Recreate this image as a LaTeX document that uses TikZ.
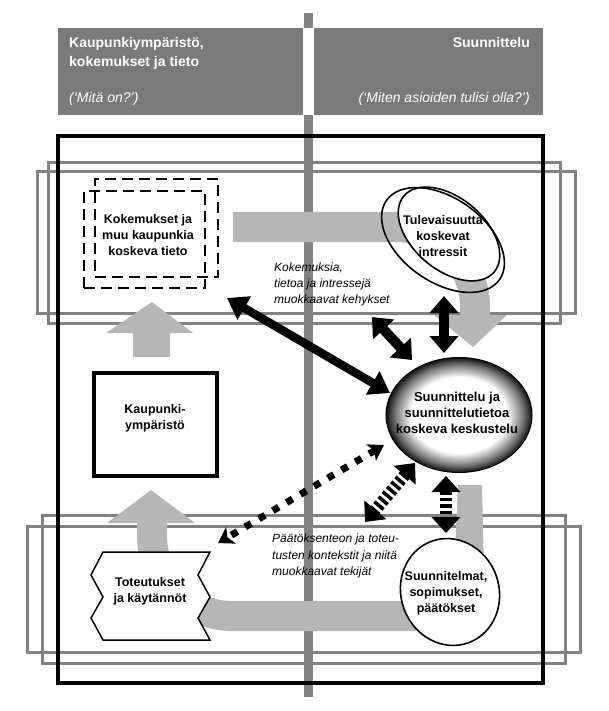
\documentclass[tikz,border=0pt]{standalone}
\usepackage{fontspec}
\setmainfont{Liberation Sans}
\usetikzlibrary{arrows.meta,shapes.geometric}
\definecolor{hdr}{RGB}{122,122,122}
\definecolor{frm}{RGB}{130,130,130}
\definecolor{band}{RGB}{182,182,182}
\pgfdeclareradialshading{discshade}{\pgfpoint{0bp}{0bp}}{color(0bp)=(white); color(16.5bp)=(white); color(22bp)=(black!55); color(25.5bp)=(black); color(50bp)=(black)}
\begin{document}
\begin{tikzpicture}[x=1pt,y=-1pt,
  frame/.style={draw=frm, line width=3pt, inner sep=0pt},
  lbl/.style={font=\fontsize{12.5}{16}\selectfont\bfseries, align=center, inner sep=0pt},
  itl/.style={font=\fontsize{12}{16}\selectfont\itshape, inner sep=0pt, anchor=base west},
  hd/.style={font=\fontsize{14}{19}\selectfont\bfseries, text=white, inner sep=0pt},
  hdi/.style={font=\fontsize{14}{19}\selectfont\itshape, text=white, inner sep=0pt},
  hdbox/.style={fill=hdr, inner sep=0pt, anchor=north west},
  dashbox/.style={draw, dash pattern=on 11pt off 6pt, line width=2.7pt, inner sep=0pt},
  bigdbl/.style={line width=8.5pt, {Triangle[length=20pt,width=26pt]}-{Triangle[length=20pt,width=26pt]}},
  middbl/.style={line width=10pt, {Triangle[length=17pt,width=28pt]}-{Triangle[length=17pt,width=28pt]}},
  stripedbl/.style={line width=12pt, dash pattern=on 3.5pt off 3pt, {Triangle[length=16pt,width=28pt]}-{Triangle[length=16pt,width=28pt]}},
  dotdbl/.style={line width=7pt, dash pattern=on 7pt off 9pt, {Stealth[length=15pt,width=19pt,inset=4pt]}-{Stealth[length=15pt,width=19pt,inset=4pt]}},
  thinell/.style={draw, ellipse, line width=1.6pt, inner sep=0pt}
]
\useasboundingbox (0,0) rectangle (609,711);

% overlapping grey frames
\node[frame, minimum width=512pt, minimum height=160pt] (fA) at (304,243) {};
\node[frame, minimum width=538pt, minimum height=141pt] (fB) at (306,242.5) {};
\node[frame, minimum width=523pt, minimum height=148pt] (fC) at (303.5,589) {};
\node[frame, minimum width=553pt, minimum height=126pt] (fD) at (303.5,589) {};

% header
\node[hdbox, minimum width=245pt, minimum height=87pt] (hl) at (58,28) {};
\node[hdbox, minimum width=229pt, minimum height=87pt] (hr) at (314,28) {};
\node[hd, anchor=base west] (h1) at (69,48) {Kaupunkiympäristö,};
\node[hd, anchor=base west] (h2) at (69,67) {kokemukset ja tieto};
\node[hdi, anchor=base west] (h3) at (69,103) {(‘Mitä on?’)};
\node[hd, anchor=base east] (h4) at (530,48) {Suunnittelu};
\node[hdi, anchor=base east] (h5) at (530,103) {(‘Miten asioiden tulisi olla?’)};

% vertical grey bar
\fill[frm] (304,13) rectangle (313,28);
\fill[frm] (304,115) rectangle (313,697);

% main black frame
\node[draw, line width=3.5pt, minimum width=485pt, minimum height=547pt, inner sep=0pt] (main) at (300.5,409.5) {};

% grey flow bands
\fill[band] (233,212) -- (395,212) arc[start angle=270, end angle=360, radius=95]
  -- (490,315) -- (507,315) -- (473,347) -- (434,315) -- (460,315) -- (460,307)
  arc[start angle=0, end angle=-90, radius=65] -- (233,242) -- cycle;
\fill[band] (482,485) -- (484,571) arc[start angle=0, end angle=90, radius=60]
  -- (232,631) arc[start angle=90, end angle=180, radius=95]
  -- (137,523) -- (107,523) -- (151,490) -- (195,523) -- (167,523) -- (167,536)
  arc[start angle=180, end angle=90, radius=65] -- (424,601)
  arc[start angle=90, end angle=0, radius=30] -- (458,485) -- cycle;
\fill[band] (133,357) rectangle (170,333);
\fill[band] (106,333) -- (152,302) -- (193,333) -- cycle;

% dashed boxes
\node[dashbox, minimum width=123pt, minimum height=98pt] (kok2) at (156.5,228) {};
\node[dashbox, minimum width=121pt, minimum height=97pt] (kok1) at (144.5,239.5) {};
\node[lbl] (tkok) at (148,235) {Kokemukset ja\\muu kaupunkia\\koskeva tieto};

% Kaupunkiympäristö
\node[draw, line width=4pt, minimum width=123pt, minimum height=103pt, inner sep=0pt] (kaup) at (155.5,424.5) {};
\node[lbl] (tkaup) at (155,418) {Kaupunki-\\ympäristö};

% Tulevaisuutta ellipses
\node[thinell, fill=white, minimum width=118pt, minimum height=72pt, rotate=-40] (tul2) at (449,234) {};
\node[thinell, minimum width=138pt, minimum height=84pt, rotate=-35] (tul1) at (443,240) {};
\node[lbl] (ttul) at (443,236) {Tulevaisuutta\\koskevat\\intressit};

% central ellipse
\node[ellipse, shading=discshade, draw=black, line width=1pt, minimum width=146pt, minimum height=115pt, inner sep=0pt] (kesk) at (459,415) {};
\node[lbl, font=\fontsize{13}{16}\selectfont\bfseries] (tkesk) at (457,413) {Suunnittelu ja\\suunnittelutietoa\\koskeva keskustelu};

% Suunnitelmat ellipse
\node[thinell, fill=white, minimum width=108pt, minimum height=98pt, rotate=-70] (suun) at (450,592) {};
\node[lbl] (tsuun) at (446,593) {Suunnitelmat,\\sopimukset,\\päätökset};

% Toteutukset shape
\filldraw[fill=white, draw=black, line width=1.5pt] (103,552) -- (91,575) -- (103,597) -- (91,618) -- (103,640)
  -- (210,640) -- (198,618) -- (210,597) -- (198,575) -- (210,552) -- cycle;
\node[lbl] (ttot) at (150,591) {Toteutukset\\ja käytännöt};

% italic labels
\node[itl] (i1) at (274,271) {Kokemuksia,};
\node[itl] (i2) at (274,287) {tietoa ja intressejä};
\node[itl] (i3) at (274,303) {muokkaavat kehykset};
\node[itl] (i4) at (272,542) {Päätöksenteon ja toteu-};
\node[itl] (i5) at (272,559) {tusten kontekstit ja niitä};
\node[itl] (i6) at (272,575) {muokkaavat tekijät};

% arrow end points
\coordinate (a1s) at (227,298);
\coordinate (a1e) at (390,393);
\coordinate (a2s) at (372,317);
\coordinate (a2e) at (412,360);
\coordinate (a3s) at (444,296);
\coordinate (a3e) at (444,353);
\coordinate (a4s) at (446,476);
\coordinate (a4e) at (446,533);
\coordinate (a5s) at (415,463);
\coordinate (a5e) at (365,522);
\coordinate (a6s) at (384,445);
\coordinate (a6e) at (218,543);

\draw[bigdbl] (a1s) -- (a1e);
\draw[middbl] (a2s) -- (a2e);
\draw[middbl] (a3s) -- (a3e);
\draw[stripedbl] (a4s) -- (a4e);
\draw[stripedbl] (a5s) -- (a5e);
\draw[dotdbl] (a6s) -- (a6e);
\end{tikzpicture}
\end{document}
